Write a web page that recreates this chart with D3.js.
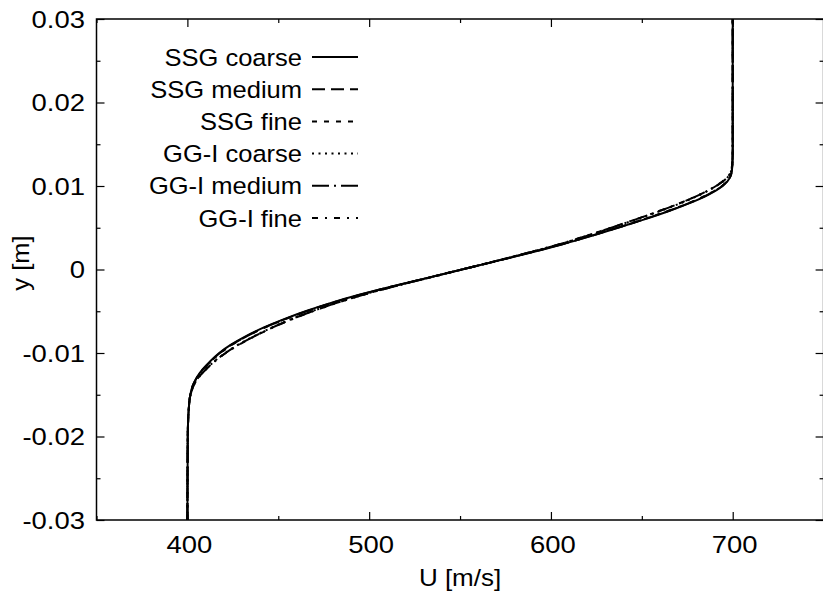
<!DOCTYPE html>
<html>
<head>
<meta charset="utf-8">
<script src="https://cdn.jsdelivr.net/npm/d3@7/dist/d3.min.js"></script>
<style>
html,body{margin:0;padding:0;background:#fff;}
svg{display:block;}
text{font-family:"Liberation Sans",Arial,Helvetica,sans-serif;fill:#000;}
</style>
</head>
<body>
<svg id="chart" width="823" height="597"></svg>
<script>
// ---- data ----
const yValues = [-0.030,-0.020,-0.016,-0.015,-0.014,-0.013,-0.012,-0.011,-0.010,-0.009,-0.008,-0.007,-0.006,-0.005,-0.004,-0.003,-0.002,-0.001,0.000,0.001,0.002,0.003,0.004,0.005,0.006,0.007,0.008,0.009,0.010,0.011,0.012,0.014,0.020,0.030];
const ssgCoarse  = [400.0,400.2,401.0,401.6,402.8,405.0,408.2,412.5,417.5,424.0,432.0,441.5,452.5,465.0,479.0,495.0,513.0,532.0,551.0,570.0,588.5,606.0,622.0,637.0,651.5,665.0,677.0,687.0,694.5,698.5,699.6,700.0,700.0,700.0];
const ssgMedium  = [400.0,400.2,401.0,401.6,402.8,405.1,408.4,412.8,417.9,424.4,432.5,442.0,453.0,465.5,479.5,495.5,513.3,532.2,551.0,569.8,588.2,605.7,621.6,636.6,651.0,664.5,676.6,686.6,694.2,698.4,699.6,700.0,700.0,700.0];
const ssgFine    = [400.0,400.2,401.0,401.6,402.9,405.2,408.5,413.0,418.1,424.6,432.7,442.2,453.2,465.7,479.7,495.6,513.4,532.3,551.0,569.7,588.0,605.5,621.4,636.4,650.8,664.3,676.4,686.4,694.1,698.4,699.6,700.0,700.0,700.0];
const ggCoarse   = [400.0,400.2,401.0,401.7,403.2,405.8,409.8,414.8,420.8,428.0,436.5,446.0,456.5,468.5,482.0,497.0,514.0,532.5,551.0,569.5,587.5,604.5,619.5,633.5,647.0,660.0,672.0,682.5,691.0,697.0,699.4,700.0,700.0,700.0];
const ggMedium   = [400.0,400.2,401.0,401.7,403.3,405.9,410.0,415.0,421.0,428.2,436.8,446.3,456.8,468.8,482.2,497.2,514.1,532.6,551.0,569.4,587.3,604.3,619.2,633.2,646.7,659.7,671.7,682.2,690.8,696.9,699.4,700.0,700.0,700.0];
const ggFine     = [400.0,400.2,401.0,401.7,403.3,406.0,410.1,415.1,421.2,428.4,437.0,446.5,457.0,469.0,482.4,497.3,514.2,532.7,551.0,569.3,587.2,604.1,619.0,633.0,646.5,659.5,671.5,682.0,690.6,696.8,699.4,700.0,700.0,700.0];
const seriesNames = ["SSG coarse","SSG medium","SSG fine","GG-I coarse","GG-I medium","GG-I fine"];
const xTicks = [400,500,600,700];
const xMinorTicks = [350,450,550,650,750];
const yTicks = [-0.03,-0.02,-0.01,0,0.01,0.02,0.03];
const yMinorTicks = [-0.025,-0.015,-0.005,0.005,0.015,0.025];
const yTickLabels = ["-0.03","-0.02","-0.01","0","0.01","0.02","0.03"];
const xLabel = "U [m/s]";
const yLabel = "y [m]";

// ---- layout ----
const svg = d3.select("#chart");
const L = 96.5, T = 19, R = 823.6, B = 520;
const x = d3.scaleLinear().domain([350,750]).range([L,R]);
const y = d3.scaleLinear().domain([-0.03,0.03]).range([B,T]);

const dashes = ["none","13,6","5,7","2,4.5","17,5,2,5","6,7,2,7"];
const seriesData = [ssgCoarse,ssgMedium,ssgFine,ggCoarse,ggMedium,ggFine];

const fs = 24.3;
function label(px, py, str, anchor, sx, rot){
  const g = svg.append("g").attr("transform",`translate(${px},${py})` + (rot?` rotate(${rot})`:"") + ` scale(${sx},1)`);
  return g.append("text").attr("text-anchor",anchor).attr("font-size",fs).text(str);
}

// curves
const line = d3.line().x(d=>x(d[0])).y(d=>y(d[1])).curve(d3.curveMonotoneY);
const plot = svg.append("g");
plot.append("clipPath").attr("id","clip").append("rect").attr("x",L).attr("y",T).attr("width",R-L).attr("height",B-T);
const cg = plot.append("g").attr("clip-path","url(#clip)");
seriesData.forEach((vals,i)=>{
  const pts = vals.map((u,k)=>[u,yValues[k]]);
  cg.append("path").attr("d",line(pts)).attr("fill","none").attr("stroke","#000")
    .attr("stroke-width",2).attr("stroke-dasharray",dashes[i]);
});

// axes
const axB = d3.axisBottom(x).tickValues(xTicks).tickSize(-8).tickFormat("");
const axT = d3.axisTop(x).tickValues(xTicks).tickSize(-8).tickFormat("");
const axL = d3.axisLeft(y).tickValues(yTicks).tickSize(-8).tickFormat("");
const axR = d3.axisRight(y).tickValues(yTicks).tickSize(-8).tickFormat("");
const axBm = d3.axisBottom(x).tickValues(xMinorTicks).tickSize(-4).tickFormat("");
const axTm = d3.axisTop(x).tickValues(xMinorTicks).tickSize(-4).tickFormat("");
const axLm = d3.axisLeft(y).tickValues(yMinorTicks).tickSize(-4).tickFormat("");
const axRm = d3.axisRight(y).tickValues(yMinorTicks).tickSize(-4).tickFormat("");
[[axB,`translate(0,${B})`],[axT,`translate(0,${T})`],[axL,`translate(${L},0)`],[axR,`translate(${R},0)`],
 [axBm,`translate(0,${B})`],[axTm,`translate(0,${T})`],[axLm,`translate(${L},0)`],[axRm,`translate(${R},0)`]].forEach(([a,t])=>{
  const g = svg.append("g").attr("transform",t).call(a);
  g.select(".domain").remove();
  g.selectAll("line").attr("stroke","#000").attr("stroke-width",1.2);
});

svg.append("rect").attr("x",L).attr("y",T).attr("width",R-L).attr("height",B-T)
  .attr("fill","none").attr("stroke","#000").attr("stroke-width",1.5);

// tick labels
yTicks.forEach((v,i)=>{
  label(L-11.5, y(v)+8.6, yTickLabels[i], "end", 1.13);
});
xTicks.forEach(v=>{
  label(x(v)+2, 552.5, String(v), "middle", 1.13);
});
label((L+R)/2, 585.5, xLabel, "middle", 1.07);
label(29, 263, yLabel, "middle", 1.05, -90);

// legend
const legY0 = 57, legDy = 32.2;
seriesNames.forEach((name,i)=>{
  const ly = legY0 + i*legDy;
  label(302, ly+8.6, name, "end", 1.05);
  svg.append("line").attr("x1",312).attr("x2",358).attr("y1",ly).attr("y2",ly)
    .attr("stroke","#000").attr("stroke-width",2).attr("stroke-dasharray",dashes[i]);
});
</script>
</body>
</html>
